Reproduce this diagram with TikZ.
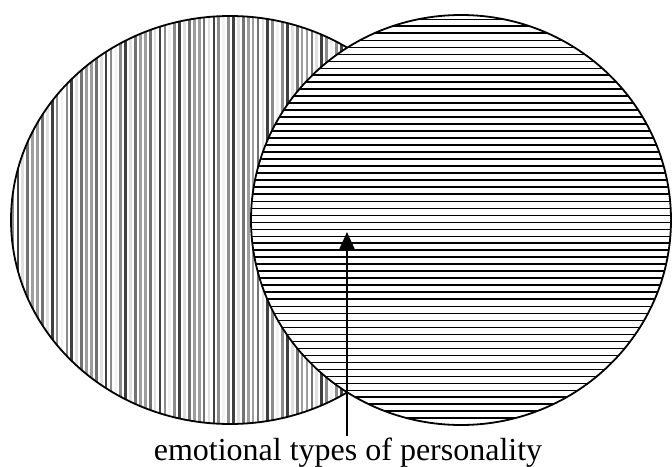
\documentclass[tikz,border=0pt]{standalone}
\usepackage{fontspec}
\setmainfont{Liberation Serif}
\usetikzlibrary{shapes.geometric,arrows.meta,calc}
\tikzset{
  setshape/.style={ellipse, draw=black, line width=1.8pt, inner sep=0pt, outer sep=0pt},
  vbar/.style={line width=2.7pt},
  hbar/.style={draw=black},
  pointer/.style={line width=1.6pt, -{Triangle[width=15pt,length=17pt]}},
  caption/.style={anchor=base, inner sep=0pt, font=\fontsize{32}{38}\selectfont}
}
\begin{document}
\begin{tikzpicture}[x=1pt,y=-1pt]
\useasboundingbox (0,0) rectangle (672,466);
% left set: vertical grey bars
\node[setshape, minimum width=438pt, minimum height=408pt,
  path picture={
    \foreach \i in {0,...,90} {
      \pgfmathtruncatemacro\k{mod(mod(\i*\i,11)*7+\i*3+1,11)}
      \pgfmathsetmacro\g{{75,45,12,78,38,5,72,55,22,80,40}[\k]}
      \pgfmathsetmacro\xx{2+\i*4.9}
      \draw[vbar, color=black!\g]
        ([xshift=\xx pt]path picture bounding box.north west) --
        ([xshift=\xx pt]path picture bounding box.south west);
    }
  }] (L) at (230,220) {};
% right set: white ellipse with horizontal black lines
\node[setshape, fill=white, minimum width=420pt, minimum height=410pt,
  path picture={
    \foreach \j in {0,...,58} {
      \pgfmathsetmacro\yy{20+7*\j}
      \pgfmathsetmacro\w{((\yy>72)&&(\yy<200))||((\yy>238)&&(\yy<306))||(\yy>392)||((\yy>25)&&(\yy<37)) ? 2.3 : 1.0}
      \pgfmathsetmacro\dy{4+7*\j}
      \draw[hbar, line width=\w pt]
        ([yshift=-\dy pt]path picture bounding box.north west) --
        ([yshift=-\dy pt]path picture bounding box.north east);
    }
  }] (R) at (461,220) {};
% label and arrow
\node[caption] (lbl) at (348,460) {emotional types of personality};
\coordinate (tail) at (347,436);
\coordinate (tip) at (347,232);
\draw[pointer] (tail) -- (tip);
\end{tikzpicture}
\end{document}
